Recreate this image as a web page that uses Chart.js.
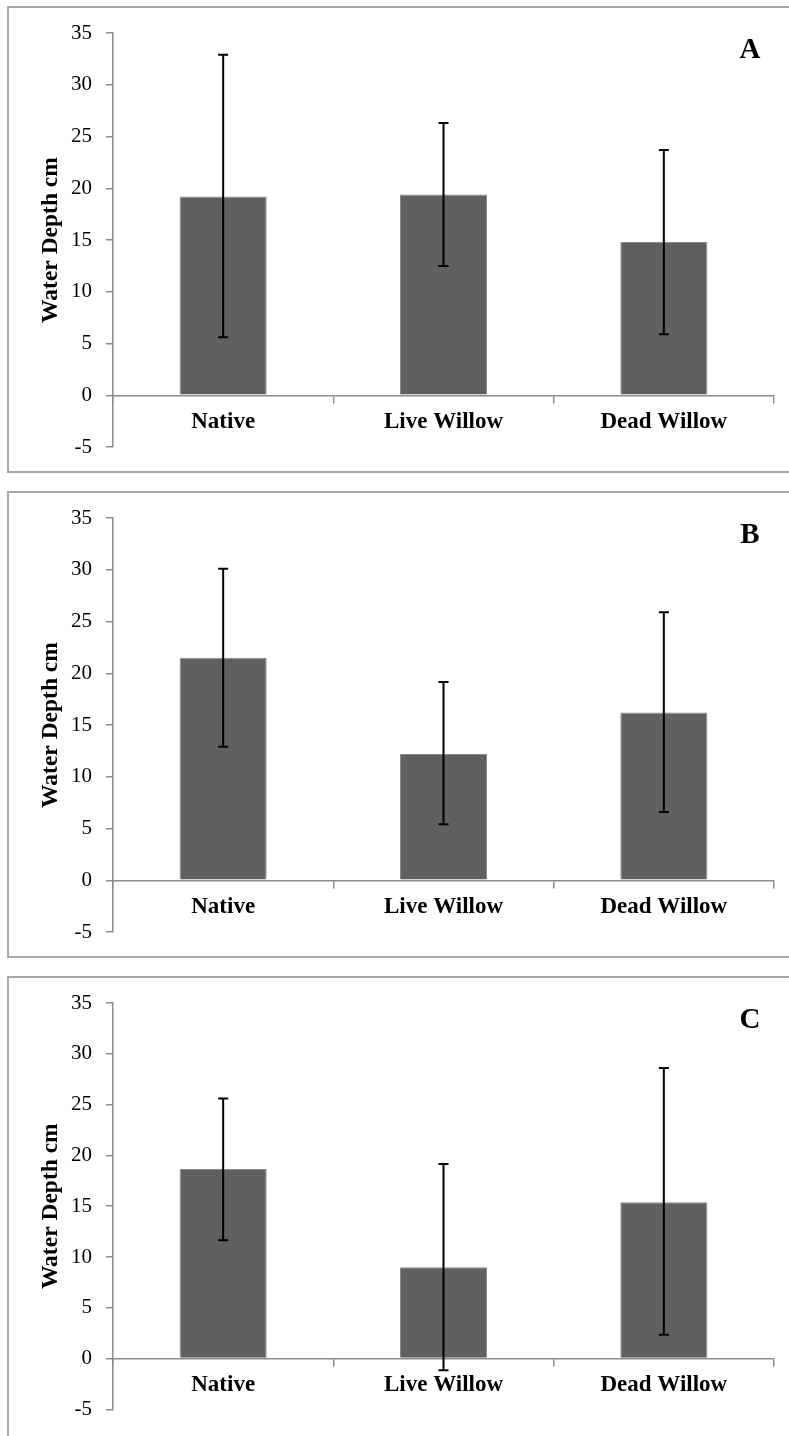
<!DOCTYPE html>
<html>
<head>
<meta charset="utf-8">
<script src="https://cdn.jsdelivr.net/npm/chart.js@4"></script>
<style>
  html, body { margin: 0; padding: 0; background: #fff; }
  body { width: 789px; height: 1436px; position: relative; overflow: hidden; }
  .panel { position: absolute; left: 7px; width: 820px; border: 2px solid #a8a8a8; box-sizing: border-box; }
  .wrap { position: absolute; left: 0; width: 789px; }
</style>
</head>
<body>
<div class="panel" style="top:6px;height:467px"></div>
<div class="panel" style="top:491px;height:467px"></div>
<div class="panel" style="top:976px;height:520px"></div>

<div class="wrap" style="top:0;height:485px"><canvas id="chartA"></canvas></div>
<div class="wrap" style="top:485px;height:485px"><canvas id="chartB"></canvas></div>
<div class="wrap" style="top:970px;height:466px"><canvas id="chartC"></canvas></div>

<script>
// categorias e valores
var categorias = ["Native", "Live Willow", "Dead Willow"];
var ticksY = [-5, 0, 5, 10, 15, 20, 25, 30, 35];

var mediaA = [19.2, 19.4, 14.8];
var altoA = [32.9, 26.3, 23.7];
var baixoA = [5.6, 12.5, 5.9];

var mediaB = [21.5, 12.2, 16.2];
var altoB = [30.1, 19.15, 25.9];
var baixoB = [12.9, 5.4, 6.6];

var mediaC = [18.65, 9.0, 15.4];
var altoC = [25.6, 19.15, 28.6];
var baixoC = [11.65, -1.15, 2.35];

var corEixo = "#8c8c8c";

// barras de erro desenhadas com as escalas do chart
var pluginErro = {
  id: "erro",
  afterDatasetsDraw: function (chart) {
    var ctx = chart.ctx;
    var yScale = chart.scales.y;
    var meta = chart.getDatasetMeta(0);
    var alto = chart.options.plugins.erro.alto;
    var baixo = chart.options.plugins.erro.baixo;
    ctx.save();
    ctx.strokeStyle = "#000";
    ctx.lineWidth = 2;
    for (var i = 0; i < meta.data.length; i++) {
      var x = meta.data[i].x;
      var y1 = yScale.getPixelForValue(alto[i]);
      var y2 = yScale.getPixelForValue(baixo[i]);
      ctx.beginPath();
      ctx.moveTo(x, y1);
      ctx.lineTo(x, y2);
      ctx.moveTo(x - 5, y1);
      ctx.lineTo(x + 5, y1);
      ctx.moveTo(x - 5, y2);
      ctx.lineTo(x + 5, y2);
      ctx.stroke();
    }
    ctx.restore();
  }
};

var pluginLetra = {
  id: "letra",
  afterDraw: function (chart) {
    var ctx = chart.ctx;
    ctx.save();
    ctx.font = "bold 29px 'Liberation Serif'";
    ctx.fillStyle = "#000";
    ctx.textAlign = "center";
    ctx.textBaseline = "middle";
    ctx.fillText(chart.options.plugins.letra.texto, 750, 51);
    ctx.restore();
  }
};

function criarGrafico(id, media, alto, baixo, letra, padBaixo) {
  var ctx = document.getElementById(id).getContext("2d");
  return new Chart(ctx, {
    type: "bar",
    data: {
      labels: categorias,
      datasets: [
        {
          data: media,
          backgroundColor: "#606060",
          borderColor: "#8a8a8a",
          borderWidth: 1,
          barPercentage: 0.395,
          categoryPercentage: 1,
        },
      ],
    },
    options: {
      responsive: true,
      maintainAspectRatio: false,
      animation: false,
      layout: {
        padding: { left: 0, right: 15, top: 33, bottom: padBaixo },
      },
      plugins: {
        legend: { display: false },
        tooltip: { enabled: false },
        erro: { alto: alto, baixo: baixo },
        letra: { texto: letra },
      },
      scales: {
        x: {
          position: { y: 0 },
          grid: {
            display: true,
            drawOnChartArea: false,
            drawTicks: true,
            tickLength: 7,
            color: corEixo,
            lineWidth: 1.5,
            offset: true,
          },
          border: { display: true, color: corEixo, width: 1.5 },
          ticks: {
            color: "#000",
            padding: 6,
            font: { family: "'Liberation Serif'", size: 23, weight: "bold" },
          },
        },
        y: {
          min: -5,
          max: 35,
          afterFit: function (scale) {
            scale.width = 113;
          },
          afterBuildTicks: function (scale) {
            scale.ticks = ticksY.map(function (v) { return { value: v }; });
          },
          grid: {
            display: true,
            drawOnChartArea: false,
            drawTicks: true,
            tickLength: 7,
            color: corEixo,
            lineWidth: 1.5,
          },
          border: { display: true, color: corEixo, width: 1.5 },
          ticks: {
            color: "#000",
            padding: 14,
            font: { family: "'Liberation Serif'", size: 21 },
          },
          title: {
            display: true,
            text: "Water Depth cm",
            color: "#000",
            padding: { top: 37, bottom: 0 },
            font: { family: "'Liberation Serif'", size: 23.5, weight: "bold" },
          },
        },
      },
    },
    plugins: [pluginErro, pluginLetra],
  });
}

criarGrafico("chartA", mediaA, altoA, baixoA, "A", 38);
criarGrafico("chartB", mediaB, altoB, baixoB, "B", 38);
criarGrafico("chartC", mediaC, altoC, baixoC, "C", 19);
</script>
</body>
</html>
